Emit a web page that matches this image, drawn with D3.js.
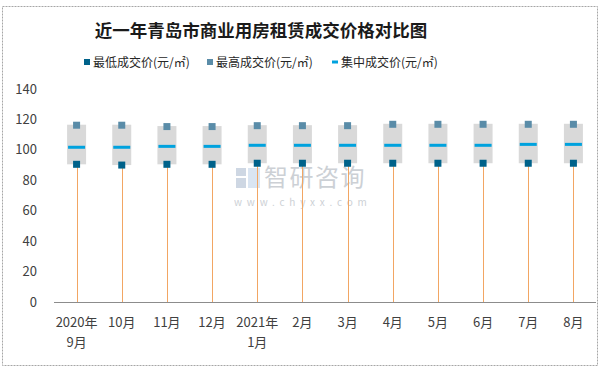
<!DOCTYPE html>
<html><head><meta charset="utf-8">
<script src="https://cdn.jsdelivr.net/npm/d3@7/dist/d3.min.js"></script>
<style>body{margin:0;background:#fff}svg{display:block}text{font-family:"Noto Sans CJK SC","Noto Sans",sans-serif}</style>
</head><body><svg id="c" width="604" height="369"></svg>
<script>
const categories = ["2020年\n9月","10月","11月","12月","2021年\n1月","2月","3月","4月","5月","6月","7月","8月"];
const lowValues  = [90.5, 90.0, 90.5, 90.5, 91.2, 91.2, 91.2, 91.2, 91.2, 91.2, 91.2, 91.2];
const highValues = [116.2, 116.2, 115.3, 115.3, 115.9, 115.9, 115.9, 116.8, 116.8, 116.8, 116.8, 116.8];
const midValues  = [101.7, 101.7, 102.3, 102.3, 103.0, 103.0, 103.0, 103.0, 103.0, 103.0, 103.6, 103.6];
const yTicks = [0,20,40,60,80,100,120,140];
const seriesNames = ["最低成交价(元/㎡)","最高成交价(元/㎡)","集中成交价(元/㎡)"];
const title = "近一年青岛市商业用房租赁成交价格对比图";

const svg = d3.select("#c");
const cLow = "#00628a", cHigh = "#5a8ca8", cMid = "#00a2de", cBox = "#d9d9d9", cDrop = "#f2a663";

// outer border
svg.append("rect").attr("x",2.5).attr("y",6.5).attr("width",595).attr("height",359)
  .attr("fill","none").attr("stroke","#a6a6a6").attr("stroke-dasharray","2,1");

// title
svg.append("text").attr("x",261).attr("y",37).attr("text-anchor","middle")
  .attr("font-size",17.5).attr("font-weight","bold").attr("fill","#1a1a1a").text(title);

// legend
const leg = [{x:84,type:"sq",c:cLow,t:seriesNames[0]},{x:207,type:"sq",c:cHigh,t:seriesNames[1]},{x:332,type:"ln",c:cMid,t:seriesNames[2]}];
leg.forEach(l=>{
  if(l.type==="sq") svg.append("rect").attr("x",l.x).attr("y",59).attr("width",6).attr("height",6).attr("fill",l.c);
  else svg.append("rect").attr("x",l.x).attr("y",60.5).attr("width",6).attr("height",3).attr("fill",l.c);
  svg.append("text").attr("x",l.x+9).attr("y",66.5).attr("font-size",12).attr("fill","#262626").text(l.t);
});

const x = d3.scaleBand().domain(categories).range([54,596]).padding(0);
const y = d3.scaleLinear().domain([0,140]).range([302,89]);

// watermark
const wm = svg.append("g").attr("opacity",0.5);
wm.append("rect").attr("x",236).attr("y",168).attr("width",10).attr("height",8).attr("fill","#9fb1c8");
wm.append("rect").attr("x",248).attr("y",168).attr("width",12).attr("height",20).attr("fill","#b6cde6");
wm.append("rect").attr("x",236).attr("y",178).attr("width",10).attr("height",10).attr("fill","#9fb1c8");
wm.append("text").attr("x",264).attr("y",186).attr("font-size",24).attr("letter-spacing","1.5").attr("fill","#9aa3ad").text("智研咨询");
wm.append("text").attr("x",234).attr("y",206).attr("font-size",10).attr("letter-spacing","4.8").attr("fill","#9aa3ad").text("www.chyxx.com");

// y tick labels
svg.append("g").selectAll("text").data(yTicks).join("text")
  .attr("x",37).attr("y",d=>y(d)+4.5).attr("text-anchor","end").attr("font-size",13).attr("fill","#404040").text(d=>d);

// x axis line
svg.append("line").attr("x1",54).attr("x2",596).attr("y1",y(0)+0.5).attr("y2",y(0)+0.5).attr("stroke","#8c8c8c").attr("stroke-width",1);

const cx = d => x(d)+x.bandwidth()/2;
const g = svg.append("g");
// boxes (low-high)
g.selectAll(".box").data(categories).join("rect")
  .attr("x",d=>cx(d)-9.5).attr("width",19)
  .attr("y",(d,i)=>y(highValues[i])-0.5).attr("height",(d,i)=>y(lowValues[i])-y(highValues[i])+0.5)
  .attr("fill",cBox);
// drop lines
g.selectAll(".drop").data(categories).join("line")
  .attr("x1",d=>Math.round(cx(d))+0.5).attr("x2",d=>Math.round(cx(d))+0.5)
  .attr("y1",(d,i)=>y(lowValues[i])).attr("y2",y(0))
  .attr("stroke",cDrop).attr("stroke-width",1);
// mid line
g.selectAll(".mid").data(categories).join("rect")
  .attr("x",d=>cx(d)-8.5).attr("width",17)
  .attr("y",(d,i)=>y(midValues[i])-1.5).attr("height",3).attr("fill",cMid);
// high markers
g.selectAll(".hi").data(categories).join("rect")
  .attr("x",d=>cx(d)-3.5).attr("width",7)
  .attr("y",(d,i)=>y(highValues[i])-3.5).attr("height",7).attr("fill",cHigh);
// low markers
g.selectAll(".lo").data(categories).join("rect")
  .attr("x",d=>cx(d)-3.5).attr("width",7)
  .attr("y",(d,i)=>y(lowValues[i])-3.5).attr("height",7).attr("fill",cLow);

// x labels
const xl = svg.append("g").selectAll("text").data(categories).join("text")
  .attr("text-anchor","middle").attr("font-size",13).attr("fill","#404040");
xl.each(function(d){
  const parts = d.split("\n");
  const t = d3.select(this);
  parts.forEach((p,k)=>t.append("tspan").attr("x",cx(d)).attr("y",327+k*20).text(p));
});
</script></body></html>
